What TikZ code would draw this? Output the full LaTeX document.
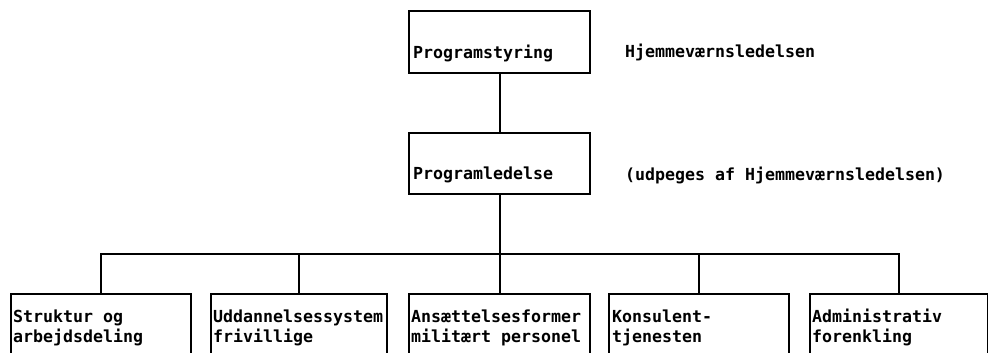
\documentclass[tikz,border=0pt]{standalone}
\usepackage{fontspec}
\setmonofont{DejaVu Sans Mono}
\begin{document}
\begin{tikzpicture}[x=1pt,y=-1pt,
  box/.style={draw,line width=2.3pt,rectangle,inner sep=0pt,anchor=north west},
  lbl/.style={anchor=base west,inner sep=0pt,font=\ttfamily\bfseries\fontsize{16.6}{20}\selectfont,align=left},
  link/.style={line width=2.3pt}]
\useasboundingbox (0,0) rectangle (988,353);
\clip (0,0) rectangle (988,353);
% upper levels
\node[box,minimum width=181pt,minimum height=62pt] (styr) at (408,10) {};
\node[lbl] (styrT) at (413,59) {Programstyring};
\node[lbl] (hvl) at (625,58) {Hjemmeværnsledelsen};
\node[box,minimum width=181pt,minimum height=61pt] (led) at (408,132) {};
\node[lbl] (ledT) at (413,179) {Programledelse};
\node[lbl] (udp) at (625,180) {(udpeges af Hjemmeværnsledelsen)};
% bottom row (boxes run past the lower edge)
\node[box,minimum width=180pt,minimum height=90pt] (b1) at (10,293) {};
\node[box,minimum width=176pt,minimum height=90pt] (b2) at (210,293) {};
\node[box,minimum width=181pt,minimum height=90pt] (b3) at (408,293) {};
\node[box,minimum width=180pt,minimum height=90pt] (b4) at (608,293) {};
\node[box,minimum width=178pt,minimum height=90pt] (b5) at (809,293) {};
% two-line labels: the base anchor sits on the second line
\node[lbl] (b1T) at (13,342) {Struktur og\\arbejdsdeling};
\node[lbl] (b2T) at (213,342) {Uddannelsessystem\\frivillige};
\node[lbl] (b3T) at (411,342) {Ansættelsesformer\\militært personel};
\node[lbl] (b4T) at (612,342) {Konsulent-\\tjenesten};
\node[lbl] (b5T) at (812,342) {Administrativ\\forenkling};
% connectors
\coordinate (bus) at (498,254);
\draw[link] (styr.south) -- (led.south |- led.north);
\draw[link] (led.south) -- (b3.north);
\draw[link,line join=miter] (b1.north) -- (b1.north |- bus) -- (b5.north |- bus) -- (b5.north);
\draw[link] (b2.north) -- (b2.north |- bus);
\draw[link] (b4.north) -- (b4.north |- bus);
\end{tikzpicture}
\end{document}
